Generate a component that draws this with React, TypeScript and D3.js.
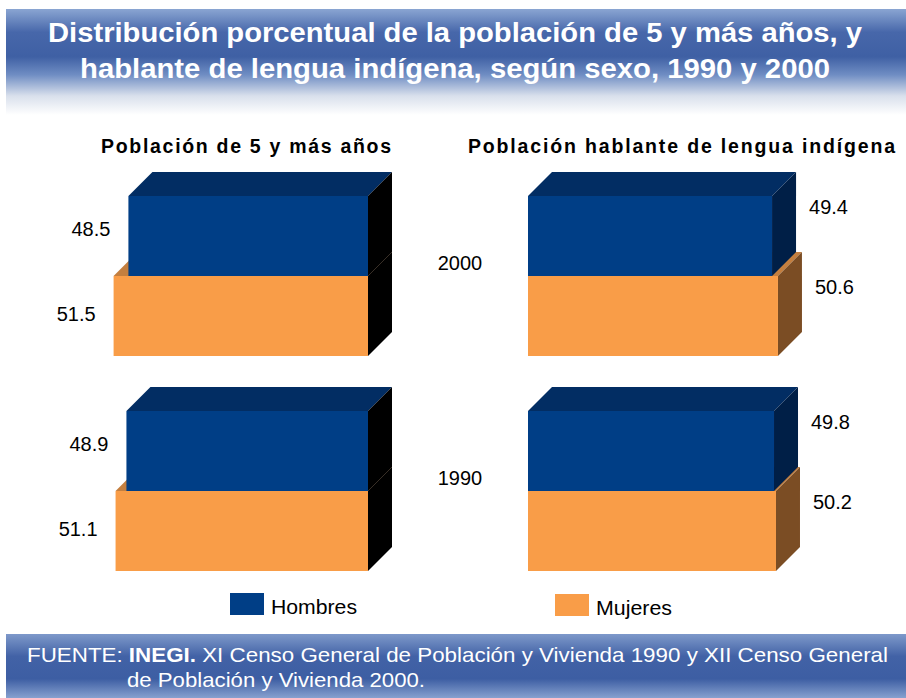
import React from "react";
import * as d3 from "d3";

const years = ["2000", "1990"];
const seriesNames = ["Hombres", "Mujeres"];
const hombresTotal = [48.5, 48.9];
const mujeresTotal = [51.5, 51.1];
const hombresIndigena = [49.4, 49.8];
const mujeresIndigena = [50.6, 50.2];
const panelTitles = ["Población de 5 y más años", "Población hablante de lengua indígena"];
const titleLines = [
  "Distribución porcentual de la población de 5 y más años, y",
  "hablante de lengua indígena, según sexo, 1990 y 2000",
];

const FONT = "'Liberation Sans', Arial, sans-serif";
const W = 906;
const H = 698;
const DEPTH = 24;

const COLORS = {
  blueFront: "#003E86",
  blueTop: "#022D63",
  blueSideRight: "#001F47",
  orangeFront: "#F99D48",
  orangeTop: "#C47F3F",
  orangeSideRight: "#7B4D24",
  leftSide: "#000000",
};

const x = d3.scaleLinear().domain([0, 100]).range([0, 494]);
const y = d3.scaleBand<string>().domain(years).range([196, 571]).paddingInner(0.2558).paddingOuter(0);

type Seg = { x0: number; x1: number; y0: number; y1: number; front: string; top: string; side: string };

function Box({ s }: { s: Seg }) {
  const d = DEPTH;
  const top = `M${s.x0},${s.y0}L${s.x0 + d},${s.y0 - d}L${s.x1 + d},${s.y0 - d}L${s.x1},${s.y0}Z`;
  const side = `M${s.x1},${s.y0}L${s.x1 + d},${s.y0 - d}L${s.x1 + d},${s.y1 - d}L${s.x1},${s.y1}Z`;
  return (
    <g>
      <path d={top} fill={s.top} />
      <path d={side} fill={s.side} />
      <rect x={s.x0} y={s.y0} width={s.x1 - s.x0} height={s.y1 - s.y0} fill={s.front} />
    </g>
  );
}

export default function App() {
  const bw = y.bandwidth();
  const half = bw / 2;
  const leftAnchor = 368;
  const rightAnchor = 528;

  const leftBoxes: React.ReactNode[] = [];
  const rightBoxes: React.ReactNode[] = [];
  const labels: React.ReactNode[] = [];

  years.forEach((yr, i) => {
    const by = y(yr)!;
    const lh = { x0: leftAnchor - x(hombresTotal[i]), x1: leftAnchor, y0: by, y1: by + half };
    const lm = { x0: leftAnchor - x(mujeresTotal[i]), x1: leftAnchor, y0: by + half, y1: by + bw };
    leftBoxes.push(
      <g key={"l" + yr}>
        <Box s={{ ...lm, front: COLORS.orangeFront, top: COLORS.orangeTop, side: COLORS.leftSide }} />
        <Box s={{ ...lh, front: COLORS.blueFront, top: COLORS.blueTop, side: COLORS.leftSide }} />
      </g>
    );
    const rh = { x0: rightAnchor, x1: rightAnchor + x(hombresIndigena[i]), y0: by, y1: by + half };
    const rm = { x0: rightAnchor, x1: rightAnchor + x(mujeresIndigena[i]), y0: by + half, y1: by + bw };
    rightBoxes.push(
      <g key={"r" + yr}>
        <Box s={{ ...rm, front: COLORS.orangeFront, top: COLORS.orangeTop, side: COLORS.orangeSideRight }} />
        <Box s={{ ...rh, front: COLORS.blueFront, top: COLORS.blueTop, side: COLORS.blueSideRight }} />
      </g>
    );
    const numStyle = { fontFamily: FONT, fontSize: 20, fill: "#000" };
    labels.push(
      <g key={"lab" + yr}>
        <text x={lh.x0 - 18} y={(lh.y0 + lh.y1) / 2} textAnchor="end" {...numStyle}>
          {hombresTotal[i].toFixed(1)}
        </text>
        <text x={lm.x0 - 18} y={(lm.y0 + lm.y1) / 2 + 5} textAnchor="end" {...numStyle}>
          {mujeresTotal[i].toFixed(1)}
        </text>
        <text x={rh.x1 + DEPTH + 13} y={(rh.y0 + rh.y1) / 2 - 22} {...numStyle}>
          {hombresIndigena[i].toFixed(1)}
        </text>
        <text x={rm.x1 + DEPTH + 13} y={(rm.y0 + rm.y1) / 2 - 22} {...numStyle}>
          {mujeresIndigena[i].toFixed(1)}
        </text>
        <text x={460} y={by + bw / 2 - 6} textAnchor="middle" {...numStyle}>
          {yr}
        </text>
      </g>
    );
  });

  const legendColors = [COLORS.blueFront, COLORS.orangeFront];
  const legendX = [230, 555];
  const legendW = [86, 76];

  return (
    <svg
      width={W}
      height={H}
      style={{ position: "absolute", left: 0, top: 0, display: "block", background: "#fff" }}
    >
      <defs>
        <linearGradient id="titleGrad" x1="0" y1="0" x2="0" y2="1">
          <stop offset="0" stopColor="#8aa5d2" />
          <stop offset="0.22" stopColor="#4767aa" />
          <stop offset="0.45" stopColor="#3f60a4" />
          <stop offset="0.62" stopColor="#6f8dc3" />
          <stop offset="0.82" stopColor="#d9e0ec" />
          <stop offset="1" stopColor="#ffffff" />
        </linearGradient>
        <linearGradient id="footGrad" x1="0" y1="0" x2="0" y2="1">
          <stop offset="0" stopColor="#7e99ca" />
          <stop offset="0.35" stopColor="#4262a6" />
          <stop offset="0.7" stopColor="#3d5ea3" />
          <stop offset="1" stopColor="#87a1cf" />
        </linearGradient>
      </defs>
      <rect x={0} y={0} width={W} height={H} fill="#fff" />
      <rect x={6} y={9} width={900} height={106} fill="url(#titleGrad)" />
      {titleLines.map((t, i) => (
        <text
          key={t}
          x={455}
          y={42 + i * 36}
          textAnchor="middle"
          fontFamily={FONT}
          fontWeight="bold"
          fontSize={27}
          fill="#fff"
          textLength={i === 0 ? 814 : 750}
          lengthAdjust="spacingAndGlyphs"
        >
          {t}
        </text>
      ))}

      <text x={101} y={153} fontFamily={FONT} fontWeight="bold" fontSize={19.5} fill="#000" textLength={290} lengthAdjust="spacing">
        {panelTitles[0]}
      </text>
      <text x={468} y={153} fontFamily={FONT} fontWeight="bold" fontSize={19.5} fill="#000" textLength={427} lengthAdjust="spacing">
        {panelTitles[1]}
      </text>

      {leftBoxes}
      {rightBoxes}
      {labels}

      {seriesNames.map((n, i) => (
        <g key={n}>
          <rect x={legendX[i]} y={593 + i} width={34} height={22} fill={legendColors[i]} />
          <text
            x={legendX[i] + 41}
            y={614 + i}
            fontFamily={FONT}
            fontSize={21}
            fill="#000"
            textLength={legendW[i]}
            lengthAdjust="spacingAndGlyphs"
          >
            {n}
          </text>
        </g>
      ))}

      <rect x={6} y={634} width={900} height={64} fill="url(#footGrad)" />
      <text x={27} y={662} fontFamily={FONT} fontSize={21} fill="#fff" textLength={861} lengthAdjust="spacingAndGlyphs">
        FUENTE: <tspan fontWeight="bold">INEGI.</tspan> XI Censo General de Población y Vivienda 1990 y XII Censo General
      </text>
      <text x={127} y={687} fontFamily={FONT} fontSize={21} fill="#fff" textLength={298} lengthAdjust="spacingAndGlyphs">
        de Población y Vivienda 2000.
      </text>
    </svg>
  );
}
